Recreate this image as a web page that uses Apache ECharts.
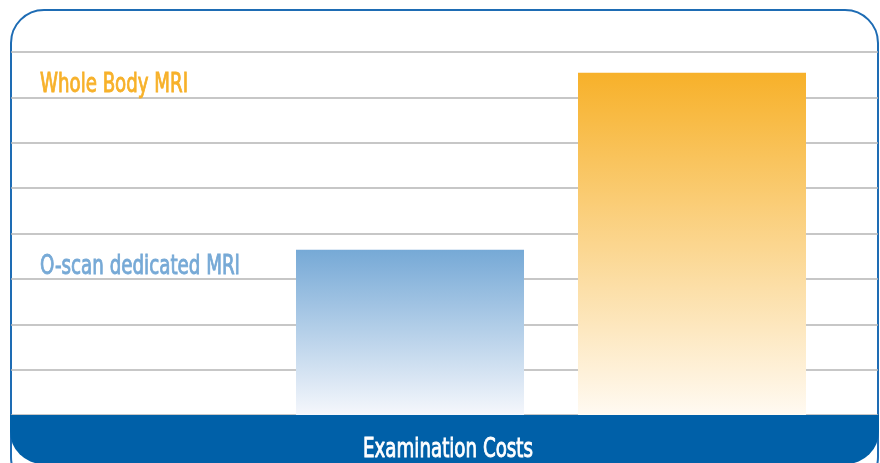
<!DOCTYPE html>
<html>
<head>
<meta charset="utf-8">
<script src="https://cdn.jsdelivr.net/npm/echarts@6/dist/echarts.min.js"></script>
<style>
	html, body { margin: 0; padding: 0; background: #fff; }
	#main { width: 880px; height: 463px; }
</style>
</head>
<body>
<div id="main"></div>
<script>
// categories and values (units = grid steps)
var categories = ["O-scan dedicated MRI", "Whole Body MRI"];
var costs = [3.64, 7.54];
var axisTitle = "Examination Costs";
var topColors = ["#76a9d6", "#f7b12a"];
var bottomColors = ["#f5f7fc", "#fffaf2"];
var labelY = [267, 85];
var labelWidth = [200, 148];

var myChart = echarts.init(document.querySelector("#main"));

var font = "'DejaVu Sans Condensed', 'DejaVu Sans', sans-serif";

// squeeze text to the width it has in the picture
var measureCtx = document.createElement("canvas").getContext("2d");
function squeeze(text, fontStr, target) {
	measureCtx.font = fontStr;
	return target / measureCtx.measureText(text).width;
}

var labelFont = "27px " + font;
var graphics = [
	{
		type: "rect",
		z: 0,
		shape: { x: 11, y: 10, width: 867, height: 480, r: 33 },
		style: { fill: "none", stroke: "#1e6cb4", lineWidth: 2 }
	},
	{
		type: "rect",
		z: 10,
		shape: { x: 10, y: 415, width: 869, height: 49, r: [0, 0, 33, 33] },
		style: { fill: "#0060a8" }
	},
	{
		type: "text",
		z: 11,
		x: 448,
		y: 450,
		scaleX: squeeze(axisTitle, labelFont, 170),
		style: {
			text: axisTitle,
			fill: "#ffffff",
			stroke: "#ffffff",
			lineWidth: 0.9,
			font: labelFont,
			textAlign: "center",
			textVerticalAlign: "middle"
		}
	}
];
for (var i = 0; i < categories.length; i++) {
	graphics.push({
		type: "text",
		z: 11,
		x: 40,
		y: labelY[i],
		scaleX: squeeze(categories[i], labelFont, labelWidth[i]),
		style: {
			text: categories[i],
			fill: topColors[i],
			stroke: topColors[i],
			lineWidth: 0.9,
			font: labelFont,
			textVerticalAlign: "middle"
		}
	});
}

var barData = costs.map(function (v, i) {
	return {
		value: v,
		itemStyle: {
			color: new echarts.graphic.LinearGradient(0, 0, 0, 1, [
				{ offset: 0, color: topColors[i] },
				{ offset: 1, color: bottomColors[i] }
			])
		}
	};
});

var option = {
	animation: false,
	grid: [
		{ left: 11, right: 2, top: 52, bottom: 48 },
		{ left: 269, right: 47, top: 52, bottom: 48 }
	],
	xAxis: [
		{ type: "category", gridIndex: 0, data: categories, show: false },
		{ type: "category", gridIndex: 1, data: categories, show: false }
	],
	yAxis: [
		{
			type: "value", gridIndex: 0, min: 0, max: 8, interval: 1,
			axisLine: { show: false }, axisTick: { show: false }, axisLabel: { show: false },
			splitLine: { lineStyle: { color: "#b4b4b4", width: 1.5 } }
		},
		{
			type: "value", gridIndex: 1, min: 0, max: 8, interval: 1,
			show: false, splitLine: { show: false }
		}
	],
	series: [
		{
			type: "bar",
			xAxisIndex: 1,
			yAxisIndex: 1,
			barWidth: 228,
			data: barData
		}
	],
	graphic: graphics
};
myChart.setOption(option);
</script>
</body>
</html>
